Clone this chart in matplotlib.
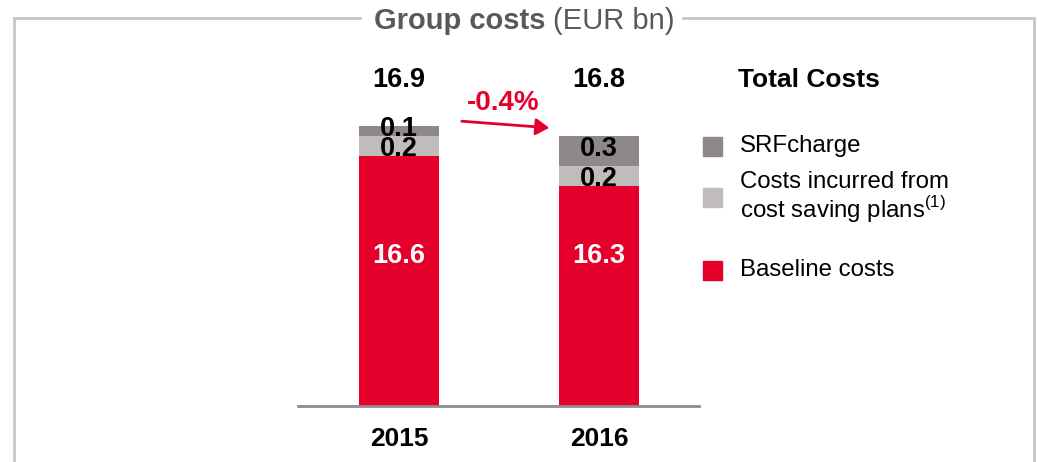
import matplotlib
matplotlib.use("Agg")
import matplotlib.pyplot as plt
from matplotlib.lines import Line2D
from matplotlib.patches import Rectangle, FancyArrowPatch

plt.rcParams['font.family'] = ['Liberation Sans', 'DejaVu Sans']
plt.rcParams['mathtext.fontset'] = 'custom'
plt.rcParams['mathtext.rm'] = 'Liberation Sans'

years = ["2015", "2016"]
baseline = [16.6, 16.3]
saving_plans = [0.2, 0.2]
srf = [0.1, 0.3]
totals = ["16.9", "16.8"]
change = "-0.4%"

RED = "#e4002b"
LIGHT = "#c0bcbc"
DARK = "#8e8889"
FRAME = "#c8c8c8"
TITLE_GREY = "#595959"

W, H = 1037, 462
fig = plt.figure(figsize=(W / 100, H / 100), dpi=100)

def fx(px):
    return px / W

def fy(py):
    return 1 - py / H

# frame round the chart
for xs, ys in [([14, 360], [18, 18]), ([683, 1034], [18, 18]),
               ([14, 14], [18, 470]), ([1034, 1034], [18, 470])]:
    fig.add_artist(Line2D([fx(x) for x in xs], [fy(y) for y in ys],
                          color=FRAME, lw=2))
fig.text(fx(546), fy(21), "Group costs", ha='right', va='center',
         fontsize=21, fontweight='bold', color=TITLE_GREY)
fig.text(fx(553), fy(21), "(EUR bn)", ha='left', va='center',
         fontsize=21, color=TITLE_GREY)

ax = fig.add_axes([fx(298), fy(406), fx(699) - fx(298), fy(56) - fy(406)])
x = range(len(years))
bottom2 = [b + s for b, s in zip(baseline, saving_plans)]
ax.bar(x, baseline, width=0.4, color=RED)
ax.bar(x, saving_plans, width=0.4, bottom=baseline, color=LIGHT)
ax.bar(x, srf, width=0.4, bottom=bottom2, color=DARK)
ax.set_xlim(-0.505, 1.5)
ax.set_ylim(14.1, 17.6)

for i in x:
    ax.text(i, 15.6, f"{baseline[i]:.1f}", ha='center', va='center',
            fontsize=19.5, fontweight='bold', color='white')
    ax.text(i, baseline[i] + saving_plans[i] / 2 - 0.03, f"{saving_plans[i]:.1f}",
            ha='center', va='center', fontsize=19.5, fontweight='bold')
    ax.text(i, bottom2[i] + srf[i] / 2 + 0.02, f"{srf[i]:.1f}",
            ha='center', va='center', fontsize=19.5, fontweight='bold')
    ax.text(i, 0.931, totals[i], transform=ax.get_xaxis_transform(),
            ha='center', va='center', fontsize=19.5, fontweight='bold')

ax.set_xticks(list(x))
ax.set_xticklabels(years, fontsize=19, fontweight='bold')
ax.tick_params(axis='x', length=0, pad=15)
ax.set_yticks([])
for s in ['top', 'right', 'left']:
    ax.spines[s].set_visible(False)
ax.spines['bottom'].set_color('#8c8c8c')
ax.spines['bottom'].set_linewidth(2)

# change arrow
fig.text(fx(503), fy(103), change, ha='center', va='center',
         fontsize=20, fontweight='bold', color=RED)
fig.add_artist(FancyArrowPatch((fx(459), fy(121)), (fx(552), fy(128)),
                               transform=fig.transFigure, color=RED,
                               arrowstyle='-|>,head_length=8,head_width=5',
                               lw=2, mutation_scale=1))

# legend
fig.text(fx(738), fy(80), "Total Costs", ha='left', va='center',
         fontsize=19, fontweight='bold')
items = [(DARK, 146, "SRFcharge"),
         (LIGHT, 198, "Costs incurred from\n" + r"cost saving plans$^{\mathrm{(1)}}$"),
         (RED, 270, "Baseline costs")]
for col, yc, lab in items:
    fig.add_artist(Rectangle((fx(703), fy(yc + 9.5)), fx(19), 19 / H,
                             transform=fig.transFigure, color=col))
    fig.text(fx(740), fy(yc), lab, ha='left', va='center', fontsize=17.3,
             linespacing=1.05)

fig.savefig("out.png", dpi=100)
